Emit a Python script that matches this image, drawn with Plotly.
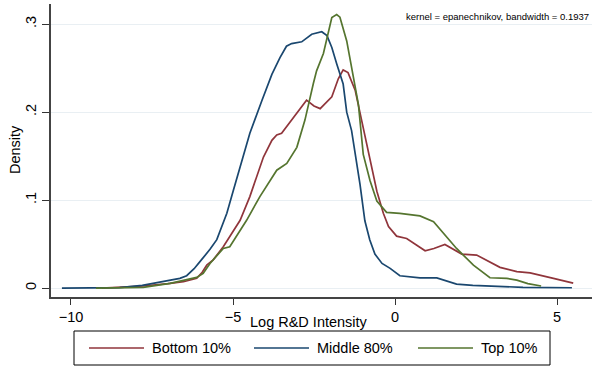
import plotly.graph_objects as go

# Kernel density estimates of log R&D intensity, by group
series_names = ["Bottom 10%", "Middle 80%", "Top 10%"]
series_colors = ["#90353b", "#1a476f", "#55752f"]

bottom_x = [-9.05, -8.5, -7.77, -7.0, -6.53, -6.12, -5.95, -5.81, -5.61, -5.30, -4.78, -4.48,
            -4.06, -3.80, -3.65, -3.50, -3.14, -2.73, -2.50, -2.31, -1.95, -1.75, -1.60, -1.45,
            -1.23, -0.87, -0.56, -0.36, -0.20, 0.05, 0.20, 0.36, 0.93, 1.20, 1.54, 1.80, 2.06,
            2.52, 3.24, 3.76, 4.17, 4.89, 5.50]
bottom_y = [0.0, 0.0008, 0.0023, 0.005, 0.0072, 0.011, 0.018, 0.026, 0.032, 0.047, 0.077, 0.104,
            0.149, 0.168, 0.174, 0.176, 0.193, 0.2136, 0.207, 0.204, 0.2174, 0.238, 0.248, 0.245,
            0.225, 0.165, 0.11, 0.085, 0.07, 0.059, 0.058, 0.0564, 0.0424, 0.045, 0.0496, 0.044,
            0.0386, 0.0375, 0.0235, 0.0186, 0.0172, 0.011, 0.0055]

middle_x = [-10.28, -9.5, -8.5, -7.8, -7.25, -6.64, -6.43, -6.2, -6.02, -5.71, -5.50, -5.19,
            -4.99, -4.78, -4.48, -4.11, -3.80, -3.55, -3.35, -3.19, -2.88, -2.57, -2.26, -2.10,
            -1.95, -1.80, -1.70, -1.60, -1.49, -1.34, -1.08, -0.93, -0.78, -0.62, -0.40, -0.15,
            0.15, 0.36, 0.77, 1.29, 1.60, 1.90, 2.40, 2.93, 3.95, 5.46]
middle_y = [0.0, 0.0, 0.0005, 0.003, 0.007, 0.011, 0.014, 0.022, 0.03, 0.044, 0.055, 0.085,
            0.111, 0.138, 0.176, 0.213, 0.243, 0.262, 0.275, 0.278, 0.280, 0.2886, 0.2915, 0.287,
            0.2735, 0.255, 0.243, 0.232, 0.20, 0.179, 0.118, 0.0765, 0.055, 0.0386, 0.028, 0.0224,
            0.014, 0.0129, 0.0115, 0.0115, 0.008, 0.0045, 0.003, 0.0023, 0.0008, 0.0003]

top_x = [-9.23, -8.5, -7.77, -6.94, -6.43, -6.12, -5.92, -5.71, -5.30, -5.10, -4.58, -4.17,
         -3.65, -3.34, -3.03, -2.78, -2.52, -2.42, -2.21, -2.05, -1.95, -1.80, -1.70, -1.49,
         -1.29, -1.13, -0.98, -0.77, -0.56, -0.26, 0.15, 0.77, 1.19, 1.49, 1.90, 2.42, 2.93,
         3.45, 3.76, 4.10, 4.51]
top_y = [0.0, 0.0005, 0.0008, 0.0053, 0.0099, 0.0121, 0.0167, 0.028, 0.045, 0.047, 0.077, 0.104,
         0.134, 0.1417, 0.160, 0.191, 0.2326, 0.247, 0.2667, 0.293, 0.3076, 0.311, 0.308, 0.281,
         0.243, 0.209, 0.152, 0.122, 0.099, 0.086, 0.0849, 0.082, 0.0754, 0.062, 0.045, 0.026,
         0.0117, 0.011, 0.009, 0.005, 0.0023]

x_ticks = [-10, -5, 0, 5]
y_ticks = [0, 0.1, 0.2, 0.3]
y_tick_labels = ["0", ".1", ".2", ".3"]

x_title = "Log R&D Intensity"
y_title = "Density"
note_text = "kernel = epanechnikov, bandwidth = 0.1937"

FONT = "Liberation Sans, Arial, sans-serif"
W, H = 593, 368
ML, MR, MT, MB = 51, 1, 4, 71
PW, PH = W - ML - MR, H - MT - MB


def px_to_paper(px, py):
    return (px - ML) / PW, (H - MB - py) / PH


fig = go.Figure()
for name, color, xs, ys in zip(series_names, series_colors,
                               [bottom_x, middle_x, top_x],
                               [bottom_y, middle_y, top_y]):
    fig.add_trace(go.Scatter(x=xs, y=ys, mode="lines", name=name,
                             line=dict(color=color, width=1.7),
                             showlegend=False))

shapes = []
annotations = []

# Legend box with line keys
bx0, by0 = px_to_paper(74, 331)
bx1, by1 = px_to_paper(550, 365)
shapes.append(dict(type="rect", xref="paper", yref="paper", x0=bx0, y0=by1, x1=bx1, y1=by0,
                   line=dict(color="black", width=1), fillcolor="white"))
key_start = [89, 254, 418]
for i, (name, color) in enumerate(zip(series_names, series_colors)):
    k0, ky = px_to_paper(key_start[i], 348)
    k1, _ = px_to_paper(key_start[i] + 55, 348)
    shapes.append(dict(type="line", xref="paper", yref="paper", x0=k0, x1=k1, y0=ky, y1=ky,
                       line=dict(color=color, width=1.7)))
    tx, _ = px_to_paper(key_start[i] + 61, 348)
    annotations.append(dict(text=name, xref="paper", yref="paper", x=tx, y=ky,
                            xanchor="left", yanchor="middle", showarrow=False,
                            font=dict(family=FONT, size=14.5, color="black")))

# Axis titles
ax, ay = px_to_paper(308.5, 322)
annotations.append(dict(text=x_title, xref="paper", yref="paper", x=ax, y=ay,
                        xanchor="center", yanchor="middle", showarrow=False,
                        font=dict(family=FONT, size=14.5, color="black")))
yx, yy = px_to_paper(15, 150)
annotations.append(dict(text=y_title, xref="paper", yref="paper", x=yx, y=yy, textangle=-90,
                        xanchor="center", yanchor="middle", showarrow=False,
                        font=dict(family=FONT, size=14.5, color="black")))

# Kernel note, right-aligned at the figure edge
nx, ny = px_to_paper(591, 16)
annotations.append(dict(text=note_text, xref="paper", yref="paper", x=nx, y=ny,
                        xanchor="right", yanchor="middle", showarrow=False,
                        font=dict(family=FONT, size=9.5, color="black")))

fig.update_layout(
    width=W, height=H,
    margin=dict(l=ML, r=MR, t=MT, b=MB, pad=0),
    paper_bgcolor="white", plot_bgcolor="white",
    font=dict(family=FONT, size=14.5, color="black"),
    shapes=shapes, annotations=annotations,
    showlegend=False,
)
fig.update_xaxes(
    range=[-10.617, 6.08], tickvals=x_ticks, ticks="outside", ticklen=6,
    tickcolor="#333333", tickwidth=1.2, showgrid=False, zeroline=False,
    showline=True, linecolor="#444444", linewidth=1.5,
    tickfont=dict(family=FONT, size=14.5, color="black"),
)
fig.update_yaxes(
    range=[-0.0102, 0.323], tickvals=y_ticks, ticktext=y_tick_labels, tickangle=-90,
    ticks="outside", ticklen=7, tickcolor="#333333", tickwidth=1.2,
    showgrid=True, gridcolor="#e9eff3", gridwidth=1, zeroline=False,
    showline=True, linecolor="#444444", linewidth=1.5,
    tickfont=dict(family=FONT, size=14.5, color="black"),
)

fig.write_html("out.html")
